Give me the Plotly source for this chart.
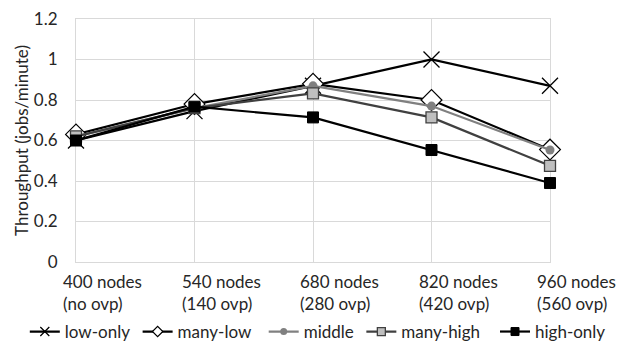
import plotly.graph_objects as go

categories = ["400 nodes<br>(no ovp)", "540 nodes<br>(140 ovp)", "680 nodes<br>(280 ovp)",
              "820 nodes<br>(420 ovp)", "960 nodes<br>(560 ovp)"]
cat_keys = ["400 nodes", "540 nodes", "680 nodes", "820 nodes", "960 nodes"]

low_only = [0.60, 0.745, 0.87, 1.00, 0.87]
many_low = [0.63, 0.78, 0.88, 0.80, 0.555]
middle = [0.62, 0.76, 0.87, 0.77, 0.553]
many_high = [0.62, 0.76, 0.833, 0.714, 0.475]
high_only = [0.60, 0.767, 0.714, 0.553, 0.39]

y_ticks = [0, 0.2, 0.4, 0.6, 0.8, 1, 1.2]
y_tick_labels = ["0", "0.2", "0.4", "0.6", "0.8", "1", "1.2"]

FONT = "Lato"
TXT = "#262626"
fig = go.Figure()

# name, values, line colour, marker style, legend marker size
series = [
    ("low-only", low_only, "#000000", dict(symbol="x-thin", size=16, line=dict(color="#000000", width=1.3)), 9),
    ("many-low", many_low, "#000000", dict(symbol="diamond", size=16, color="#ffffff", line=dict(color="#000000", width=1.2)), 8),
    ("middle", middle, "#808080", dict(symbol="circle", size=9, color="#808080", line=dict(color="#808080", width=0)), 7),
    ("many-high", many_high, "#404040", dict(symbol="square", size=11, color="#bfbfbf", line=dict(color="#404040", width=1.3)), 8),
    ("high-only", high_only, "#000000", dict(symbol="square", size=11, color="#000000", line=dict(color="#000000", width=1)), 8),
]
legend_ids = ["legend", "legend2", "legend3", "legend4", "legend5"]
legend_x = [-0.108, 0.130, 0.396, 0.602, 0.884]

for (name, vals, lc, mk, _), lid in zip(series, legend_ids):
    fig.add_trace(go.Scatter(
        x=cat_keys, y=vals, name=name, mode="lines+markers",
        line=dict(color=lc, width=2.2), marker=mk, cliponaxis=False, showlegend=False,
    ))

# legend-only entries with smaller symbols (as in the reference legend)
for (name, vals, lc, mk, lsize), lid in zip(series, legend_ids):
    lmk = dict(mk, size=lsize)
    fig.add_trace(go.Scatter(
        x=[None], y=[None], name=name, mode="lines+markers",
        line=dict(color=lc, width=2.2), marker=lmk, legend=lid, showlegend=True,
    ))

for i, label in enumerate(categories):
    fig.add_annotation(
        x=i, xref="x", y=0, yref="paper", yanchor="top", xanchor="left",
        xshift=-15, yshift=-7, text=label, align="left", showarrow=False,
        font=dict(family=FONT, size=17, color=TXT),
    )

legend_common = dict(
    orientation="h", xref="paper", yref="paper", y=-0.288,
    xanchor="left", yanchor="middle", bgcolor="rgba(0,0,0,0)",
    font=dict(family=FONT, size=17, color=TXT),
    itemsizing="trace", itemwidth=30,
)
legends = {lid: dict(legend_common, x=lx) for lid, lx in zip(legend_ids, legend_x)}

fig.update_layout(
    width=617, height=337,
    margin=dict(l=68, r=75, t=11, b=83, autoexpand=False),
    paper_bgcolor="#ffffff", plot_bgcolor="#ffffff",
    font=dict(family=FONT, size=17, color=TXT),
    showlegend=True,
    xaxis=dict(
        type="category", range=[0, 4], showgrid=True, gridcolor="#d9d9d9", gridwidth=1,
        showline=True, linecolor="#d9d9d9", mirror=True, showticklabels=False, ticks="",
        zeroline=False, automargin=False, layer="below traces",
    ),
    yaxis=dict(
        range=[0, 1.2], tickvals=y_ticks, ticktext=y_tick_labels,
        showgrid=True, gridcolor="#d9d9d9", gridwidth=1,
        showline=True, linecolor="#d9d9d9", mirror=True, zeroline=False,
        ticks="", ticklabelstandoff=14, automargin=False, ticklabeloverflow="allow",
        layer="below traces",
        title=dict(text="Throughput (jobs/minute)", standoff=0,
                   font=dict(family=FONT, size=17, color=TXT)),
    ),
    **legends,
)

fig.write_html("out.html")
